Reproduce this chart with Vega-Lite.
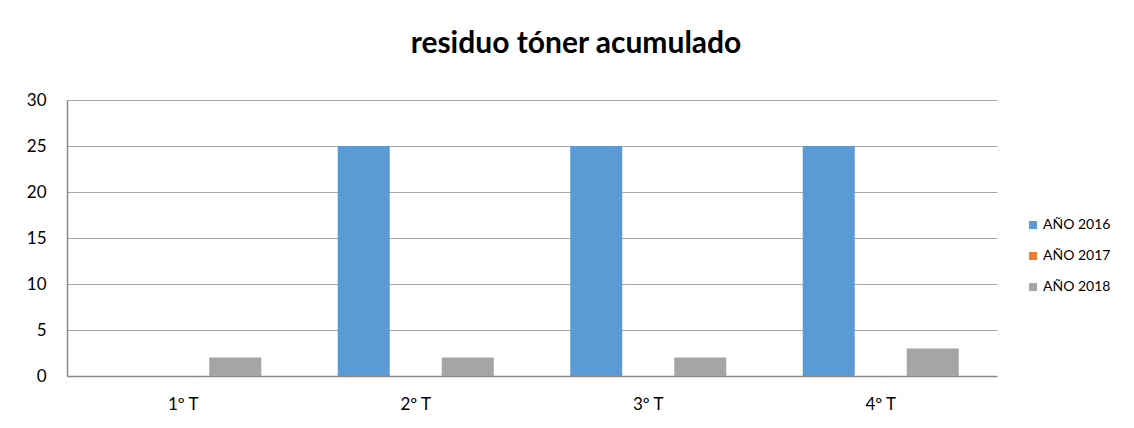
{
  "$schema": "https://vega.github.io/schema/vega-lite/v6.json",
  "autosize": {"type": "none"},
  "width": 930,
  "height": 276,
  "padding": {"left": 67, "top": 100, "right": 137, "bottom": 52},
  "background": "white",
  "title": {
    "text": "residuo tóner acumulado",
    "font": "Lato",
    "fontSize": 30,
    "fontWeight": "bold",
    "color": "#000000",
    "anchor": "middle",
    "dx": 44,
    "baseline": "alphabetic",
    "offset": 8
  },
  "data": {
    "values": [
      {"trimestre": "1º T", "serie": "AÑO 2016", "valor": 0},
      {"trimestre": "1º T", "serie": "AÑO 2017", "valor": 0},
      {"trimestre": "1º T", "serie": "AÑO 2018", "valor": 2},
      {"trimestre": "2º T", "serie": "AÑO 2016", "valor": 25},
      {"trimestre": "2º T", "serie": "AÑO 2017", "valor": 0},
      {"trimestre": "2º T", "serie": "AÑO 2018", "valor": 2},
      {"trimestre": "3º T", "serie": "AÑO 2016", "valor": 25},
      {"trimestre": "3º T", "serie": "AÑO 2017", "valor": 0},
      {"trimestre": "3º T", "serie": "AÑO 2018", "valor": 2},
      {"trimestre": "4º T", "serie": "AÑO 2016", "valor": 25},
      {"trimestre": "4º T", "serie": "AÑO 2017", "valor": 0},
      {"trimestre": "4º T", "serie": "AÑO 2018", "valor": 3}
    ]
  },
  "mark": {"type": "bar"},
  "encoding": {
    "x": {
      "field": "trimestre",
      "type": "nominal",
      "sort": null,
      "scale": {"paddingInner": 0, "paddingOuter": 0},
      "axis": {
        "title": null,
        "labelAngle": 0,
        "labelFont": "Lato",
        "labelFontSize": 17,
        "labelColor": "#000000",
        "labelPadding": 20,
        "ticks": false,
        "domainColor": "#898989",
        "domainWidth": 1.5
      }
    },
    "xOffset": {
      "field": "serie",
      "type": "nominal",
      "scale": {"paddingInner": 0, "paddingOuter": 0.735}
    },
    "y": {
      "field": "valor",
      "type": "quantitative",
      "scale": {"domain": [0, 30], "nice": false},
      "axis": {
        "title": null,
        "values": [0, 5, 10, 15, 20, 25, 30],
        "labelFont": "Lato",
        "labelFontSize": 17,
        "labelColor": "#000000",
        "labelPadding": 21,
        "ticks": false,
        "domainColor": "#898989",
        "domainWidth": 1.5,
        "gridColor": "#A6A6A6",
        "gridWidth": 1
      }
    },
    "color": {
      "field": "serie",
      "type": "nominal",
      "scale": {
        "domain": ["AÑO 2016", "AÑO 2017", "AÑO 2018"],
        "range": ["#5B9BD5", "#ED7D31", "#A5A5A5"]
      },
      "legend": {
        "title": null,
        "orient": "none",
        "legendX": 959,
        "legendY": 118,
        "symbolType": "square",
        "symbolSize": 64,
        "symbolStrokeWidth": 0,
        "labelFont": "Lato",
        "labelFontSize": 14,
        "labelColor": "#000000",
        "labelOffset": 3,
        "rowPadding": 17
      }
    }
  },
  "config": {
    "view": {"stroke": null}
  }
}
